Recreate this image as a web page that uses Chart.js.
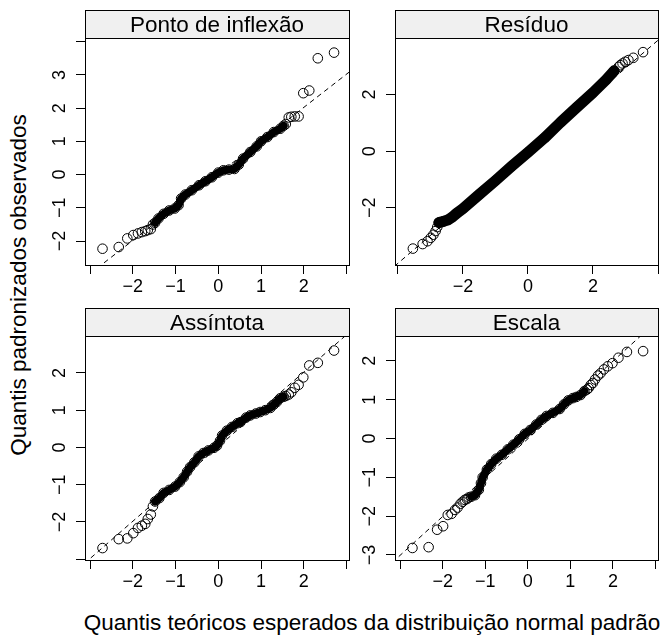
<!DOCTYPE html>
<html>
<head>
<meta charset="utf-8">
<title>Quantis padronizados</title>
<script src="https://cdn.jsdelivr.net/npm/chart.js"></script>
<style>
  body { margin: 0; background: #fff; }
  #fig {
    position: relative; width: 665px; height: 640px; overflow: hidden;
    font-family: "Liberation Sans", Arial, Helvetica, sans-serif; color: #000;
  }
  #fig canvas { position: absolute; }
  .titulo-x, .titulo-y {
    position: absolute; white-space: nowrap;
    font-size: 22.5px; line-height: 22.5px;
  }
  .titulo-x { left: 372px; top: 623px; transform: translate(-50%, -50%); }
  .titulo-y { left: 19px; top: 285px; transform: translate(-50%, -50%) rotate(-90deg); }
</style>
</head>
<body>
<div id="fig">
  <div class="titulo-y">Quantis padronizados observados</div>
  <div class="titulo-x">Quantis teóricos esperados da distribuição normal padrão</div>
</div>

<script>
// Ponto de inflexão (quantil teórico, quantil observado)
const pontoX = [-2.71, -2.33, -2.13, -1.99, -1.88, -1.79, -1.71, -1.65, -1.58, -1.53,
  -1.48, -1.40, -1.28, -1.15, -1.02, -0.93, -0.87, -0.77, -0.62, -0.45, -0.30, -0.15, 0.00,
  0.12, 0.25, 0.38, 0.48, 0.58, 0.75, 0.90, 1.00, 1.15, 1.30, 1.45, 1.53,
  1.58, 1.65, 1.71, 1.79, 1.88, 1.99, 2.13, 2.33, 2.71];
const pontoY = [-2.23, -2.18, -1.92, -1.82, -1.77, -1.73, -1.70, -1.67, -1.64, -1.50,
  -1.45, -1.32, -1.18, -1.08, -1.02, -0.92, -0.72, -0.60, -0.47, -0.32, -0.20, -0.08, 0.06,
  0.13, 0.15, 0.17, 0.30, 0.48, 0.68, 0.85, 1.00, 1.13, 1.28, 1.38, 1.47,
  1.52, 1.72, 1.74, 1.75, 1.75, 2.45, 2.53, 3.50, 3.67];
const pontoFaixa = [-1.50, 1.55];

// Resíduo
const residuoX = [-3.54, -3.24, -3.09, -2.99, -2.91, -2.84, -2.79,
  -2.74, -2.60, -2.45, -2.32, -2.20, -2.00, -1.50, -1.00, -0.50, 0.00, 0.50, 1.00, 1.50,
  2.00, 2.40, 2.65,
  2.79, 2.84, 2.91, 2.99, 3.09, 3.24, 3.54];
const residuoY = [-3.44, -3.28, -3.18, -3.06, -2.95, -2.82, -2.68,
  -2.52, -2.48, -2.42, -2.32, -2.20, -2.03, -1.53, -1.04, -0.53, -0.04, 0.46, 1.02, 1.55,
  2.07, 2.52, 2.84,
  2.98, 3.04, 3.10, 3.16, 3.22, 3.30, 3.50];
const residuoFaixa = [-2.75, 2.70];

// Assíntota
const assintotaX = [-2.71, -2.33, -2.13, -1.99, -1.88, -1.79, -1.71, -1.65, -1.58, -1.53,
  -1.48, -1.38, -1.28, -1.15, -1.01, -0.90, -0.81, -0.73, -0.66, -0.56, -0.46, -0.35, -0.23,
  -0.10, -0.03, 0.04, 0.09, 0.20, 0.32, 0.45, 0.52, 0.65, 0.75, 0.88, 0.98, 1.10, 1.22,
  1.30, 1.37, 1.45, 1.53,
  1.58, 1.65, 1.71, 1.79, 1.88, 1.99, 2.13, 2.33, 2.71];
const assintotaY = [-2.70, -2.46, -2.44, -2.30, -2.16, -2.10, -2.05, -1.92, -1.80, -1.58,
  -1.45, -1.36, -1.22, -1.14, -1.05, -0.93, -0.80, -0.65, -0.53, -0.40, -0.24, -0.15, -0.08,
  -0.01, 0.05, 0.18, 0.32, 0.45, 0.55, 0.65, 0.68, 0.80, 0.86, 0.91, 0.95, 1.00, 1.06,
  1.15, 1.22, 1.32, 1.36,
  1.38, 1.42, 1.48, 1.60, 1.68, 1.88, 2.20, 2.27, 2.60];
const assintotaFaixa = [-1.50, 1.55];

// Escala
const escalaX = [-2.71, -2.33, -2.13, -1.99, -1.88, -1.79, -1.71, -1.65, -1.58, -1.53,
  -1.48, -1.43, -1.39,
  -1.33, -1.24, -1.15, -1.10, -1.06, -0.96, -0.86, -0.74, -0.61, -0.47, -0.34, -0.20, -0.07,
  0.06, 0.20, 0.32, 0.44, 0.59, 0.75, 0.85, 0.95, 1.06, 1.14, 1.24, 1.33,
  1.39, 1.43, 1.48, 1.53, 1.58, 1.65, 1.71, 1.79, 1.88, 1.99, 2.13, 2.33, 2.71];
const escalaY = [-2.82, -2.80, -2.35, -2.26, -1.97, -1.94, -1.84, -1.78, -1.68, -1.63,
  -1.58, -1.56, -1.52,
  -1.50, -1.46, -1.32, -1.15, -1.00, -0.80, -0.66, -0.52, -0.42, -0.28, -0.16, -0.02, 0.12,
  0.22, 0.36, 0.48, 0.58, 0.66, 0.76, 0.88, 0.98, 1.04, 1.07, 1.12, 1.22,
  1.26, 1.30, 1.38, 1.43, 1.52, 1.62, 1.68, 1.78, 1.86, 1.94, 2.08, 2.23, 2.25];
const escalaFaixa = [-1.35, 1.35];

const titulos = ['Ponto de inflexão', 'Resíduo', 'Assíntota', 'Escala'];

// reta de referência tracejada: y = intercepto + inclinação * x
const retaIntercepto = [0.02, -0.02, 0.02, -0.01];
const retaInclinacao = [1.00, 0.985, 1.00, 1.00];

// limites dos eixos de cada painel
const limX = [[-3.12, 3.06], [-4.09, 4.00], [-3.12, 3.06], [-3.12, 3.06]];
const limY = [[-2.72, 4.11], [-4.02, 4.00], [-3.02, 2.99], [-3.13, 2.64]];

// marcas e rótulos
const ticksX = [[-3, -2, -1, 0, 1, 2, 3], [-4, -2, 0, 2, 4], [-3, -2, -1, 0, 1, 2, 3], [-3, -2, -1, 0, 1, 2, 3]];
const rotulosX = [[-2, -1, 0, 1, 2], [-2, 0, 2], [-2, -1, 0, 1, 2], [-2, -1, 0, 1, 2]];
const ticksY = [[-2, -1, 0, 1, 2, 3, 4], [-2, 0, 2], [-3, -2, -1, 0, 1, 2], [-3, -2, -1, 0, 1, 2]];
const rotulosY = [[-2, -1, 0, 1, 2, 3], [-2, 0, 2], [-2, -1, 0, 1, 2], [-3, -2, -1, 0, 1, 2]];

const FONTE = '"Liberation Sans", Arial, Helvetica, sans-serif';
Chart.defaults.font.family = FONTE;
Chart.defaults.color = '#000';

// posição de cada canvas na figura
const layout = [
  { left: 0, top: 0, w: 355, h: 300, dir: 6, faixa: 8 },
  { left: 310, top: 0, w: 355, h: 300, dir: 7, faixa: 11 },
  { left: 0, top: 298, w: 355, h: 297, dir: 6, faixa: 8 },
  { left: 310, top: 298, w: 355, h: 297, dir: 7, faixa: 8 }
];

function fmt(v) {
  return v < 0 ? '\u2212' + Math.abs(v) : String(v);
}

// faixa de título (strip) e moldura do painel
const moldura = {
  id: 'moldura',
  afterDraw(chart) {
    const ctx = chart.ctx;
    const a = chart.chartArea;
    const titulo = chart.options.plugins.moldura.titulo;
    ctx.save();
    ctx.fillStyle = '#f0f0f0';
    ctx.fillRect(a.left, a.top - 28, a.right - a.left, 28);
    ctx.strokeStyle = '#000';
    ctx.lineWidth = 1;
    ctx.strokeRect(a.left + 0.5, a.top - 27.5, a.right - a.left, 28);
    ctx.strokeRect(a.left + 0.5, a.top + 0.5, a.right - a.left, a.bottom - a.top);
    ctx.fillStyle = '#000';
    ctx.font = '22.5px ' + FONTE;
    ctx.textAlign = 'center';
    ctx.textBaseline = 'alphabetic';
    ctx.fillText(titulo, (a.left + a.right) / 2, a.top - 6);
    ctx.restore();
  }
};

function criarPainel(i, xs, ys, faixa) {
  const pos = layout[i];
  const canvas = document.createElement('canvas');
  canvas.width = pos.w;
  canvas.height = pos.h;
  canvas.style.left = pos.left + 'px';
  canvas.style.top = pos.top + 'px';
  document.getElementById('fig').appendChild(canvas);

  const pontos = xs.map((x, k) => ({ x: x, y: ys[k] }));
  const densos = pontos.filter(p => p.x >= faixa[0] && p.x <= faixa[1]);
  const reta = [-6, 6].map(x => ({ x: x, y: retaIntercepto[i] + retaInclinacao[i] * x }));

  new Chart(canvas, {
    type: 'scatter',
    data: {
      datasets: [
        {
          data: pontos, order: 1,
          pointRadius: 4.8, pointBorderWidth: 1,
          pointBorderColor: '#000', pointBackgroundColor: 'rgba(0,0,0,0)'
        },
        {
          data: densos, order: 2, showLine: true, pointRadius: 0,
          borderColor: '#000', borderWidth: pos.faixa,
          borderCapStyle: 'round', borderJoinStyle: 'round'
        },
        {
          data: reta, order: 3, showLine: true, pointRadius: 0,
          borderColor: '#000', borderWidth: 1, borderDash: [5, 4]
        }
      ]
    },
    options: {
      responsive: false,
      animation: false,
      events: [],
      devicePixelRatio: 1,
      layout: { padding: { left: 0, top: 38, right: pos.dir, bottom: 0 } },
      plugins: {
        legend: { display: false },
        tooltip: { enabled: false },
        moldura: { titulo: titulos[i] }
      },
      scales: {
        x: {
          type: 'linear', min: limX[i][0], max: limX[i][1],
          afterBuildTicks: s => { s.ticks = ticksX[i].map(v => ({ value: v })); },
          afterFit: s => {
            s.height = 35;
            s.paddingLeft = 0; s.paddingRight = 0;
          },
          ticks: {
            autoSkip: false, minRotation: 0, maxRotation: 0, padding: 2,
            color: '#000', font: { size: 18 },
            callback: v => rotulosX[i].includes(v) ? fmt(v) : ''
          },
          grid: { drawOnChartArea: false, drawTicks: true, tickLength: 9, color: '#000', lineWidth: 1 },
          border: { display: false }
        },
        y: {
          type: 'linear', min: limY[i][0], max: limY[i][1],
          afterBuildTicks: s => { s.ticks = ticksY[i].map(v => ({ value: v })); },
          afterFit: s => {
            s.width = 85;
            s.paddingTop = 0; s.paddingBottom = 0;
          },
          ticks: {
            autoSkip: false, minRotation: 90, maxRotation: 90, crossAlign: 'center', padding: 6,
            color: '#000', font: { size: 18 },
            callback: v => rotulosY[i].includes(v) ? fmt(v) : ''
          },
          grid: { drawOnChartArea: false, drawTicks: true, tickLength: 9, color: '#000', lineWidth: 1 },
          border: { display: false }
        }
      }
    },
    plugins: [moldura]
  });
}

criarPainel(0, pontoX, pontoY, pontoFaixa);
criarPainel(1, residuoX, residuoY, residuoFaixa);
criarPainel(2, assintotaX, assintotaY, assintotaFaixa);
criarPainel(3, escalaX, escalaY, escalaFaixa);
</script>
</body>
</html>
